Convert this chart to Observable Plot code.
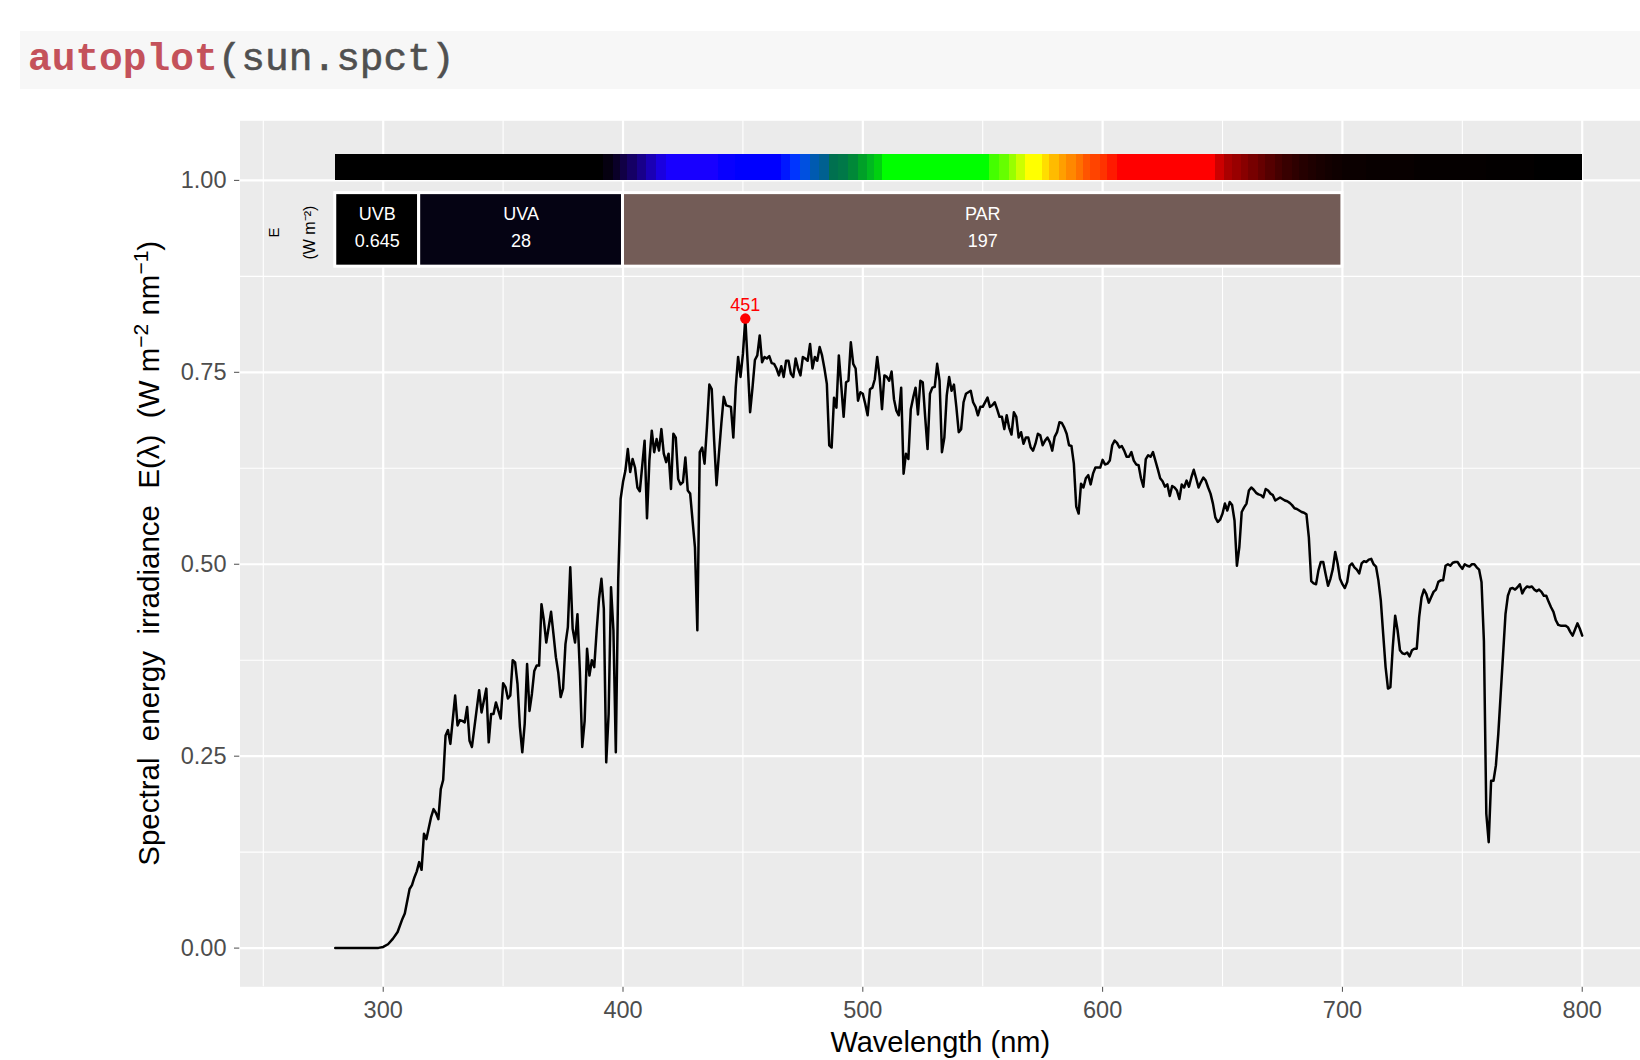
<!DOCTYPE html>
<html><head><meta charset="utf-8">
<script src="https://cdn.jsdelivr.net/npm/d3@7"></script>
<script src="https://cdn.jsdelivr.net/npm/@observablehq/plot@0.6"></script>
<style>
html,body{margin:0;padding:0;background:#fff;}
body{width:1640px;height:1060px;overflow:hidden;position:relative;font-family:"Liberation Sans",Arial,sans-serif;}
#code{position:absolute;left:20px;top:31px;width:1620px;height:58px;background:#f7f7f7;}
#code .t{position:absolute;left:8px;top:4px;font-family:"Liberation Mono","Courier New",monospace;font-size:39.5px;line-height:50px;white-space:pre;}
#code .fn{color:#c4525b;font-weight:bold;}
#code .arg{color:#505050;-webkit-text-stroke:0.6px #505050;}
#chart{position:absolute;left:0;top:89px;}
</style></head>
<body>
<div id="code"><div class="t"><span class="fn">autoplot</span><span class="arg">(sun.spct)</span></div></div>
<div id="chart"></div>
<script>
// ---- spectrum (wavelength nm, spectral energy irradiance W m-2 nm-1)
const wavelength = [280,285,290,295,298,300,302,304,306,308,309,311,312,313,314,315,316,317,318,320,321,322,323,324,325,326,327,328,330,331,332,333,334,335,336,337,340,341,343,344,345,346,347,349,
350,351,352,353,354,355,356,357,358,359,360,361,362,363,364,365,366,367,368,369,370,371,372,373,374,375,376,377,378,379,380,381,382,383,384,385,386,387,388,389,390,391,392,393,394,395,396,397,398,399,
400,401,402,403,404,405,406,407,409,410,411,412,413,414,415,416,417,418,419,420,421,422,423,424,425,426,427,428,430,431,432,433,434,435,436,437,438,439,440,441,442,443,445,446,447,448,449,
450,451,452,453,454,455,456,457,458,459,460,461,462,463,464,465,466,467,468,469,470,471,472,473,474,475,476,477,478,479,480,481,482,483,484,485,486,487,488,489,490,491,492,493,494,495,496,497,498,499,
500,501,502,503,504,505,506,507,508,509,510,511,512,513,514,515,516,517,518,519,520,521,522,523,524,525,526,527,528,529,530,531,532,533,534,535,536,537,538,539,540,541,542,543,545,546,547,548,549,
550,552,553,554,555,556,557,558,559,560,561,562,563,564,565,566,567,568,569,570,571,572,573,574,575,576,577,578,579,580,581,582,583,584,585,586,587,588,589,590,591,592,593,594,595,596,597,598,599,
600,601,602,603,604,605,606,607,608,609,610,611,612,613,614,615,616,617,618,619,620,621,622,623,624,625,626,627,628,629,630,631,632,633,634,635,636,637,638,639,640,641,642,643,644,645,646,647,648,649,
650,651,652,653,654,655,656,657,658,659,660,661,662,663,664,665,666,667,668,669,670,671,672,673,674,675,676,677,678,679,680,681,682,683,684,685,686,687,688,689,690,691,692,693,694,695,696,697,698,699,
700,701,702,703,704,705,706,707,708,709,710,711,712,713,714,715,716,717,718,719,720,721,722,723,724,725,726,727,728,729,730,731,732,733,734,735,736,737,738,739,740,741,742,743,744,745,746,747,748,749,
750,751,752,753,754,755,756,757,758,759,760,761,762,763,764,765,766,767,768,769,770,771,772,773,774,775,776,777,778,779,780,781,782,783,784,785,786,787,788,789,790,791,792,793,794,795,796,797,798,799,800];
const irradiance = [0,0,0,0,0.0003,0.0015,0.005,0.012,0.021,0.038,0.045,0.077,0.082,0.092,0.1,0.112,0.102,0.149,0.142,0.171,0.181,0.176,0.168,0.207,0.219,0.277,0.284,0.266,0.329,0.29,0.297,0.296,0.294,0.314,0.27,0.262,0.336,0.307,0.338,0.268,0.305,0.305,0.32,0.299,
0.345,0.34,0.325,0.329,0.375,0.372,0.344,0.288,0.255,0.292,0.37,0.309,0.331,0.361,0.368,0.368,0.448,0.427,0.398,0.418,0.438,0.409,0.379,0.359,0.327,0.338,0.396,0.418,0.496,0.416,0.398,0.435,0.361,0.262,0.296,0.39,0.355,0.375,0.366,0.413,0.455,0.481,0.442,0.242,0.305,0.47,0.414,0.255,0.48,0.585,
0.607,0.622,0.65,0.62,0.637,0.626,0.6,0.595,0.661,0.56,0.635,0.674,0.646,0.663,0.648,0.676,0.644,0.633,0.644,0.598,0.67,0.665,0.611,0.604,0.607,0.639,0.596,0.592,0.522,0.414,0.646,0.652,0.631,0.679,0.734,0.728,0.661,0.603,0.644,0.683,0.718,0.707,0.705,0.665,0.73,0.77,0.744,
0.774,0.82,0.761,0.698,0.73,0.766,0.772,0.798,0.763,0.77,0.768,0.771,0.762,0.761,0.755,0.746,0.758,0.744,0.765,0.765,0.748,0.744,0.768,0.755,0.746,0.77,0.768,0.765,0.787,0.755,0.77,0.765,0.783,0.772,0.755,0.735,0.655,0.652,0.717,0.704,0.772,0.733,0.692,0.737,0.739,0.789,0.761,0.755,0.713,0.724,
0.722,0.709,0.694,0.728,0.73,0.741,0.77,0.744,0.702,0.746,0.744,0.739,0.751,0.715,0.7,0.694,0.73,0.618,0.644,0.637,0.702,0.717,0.73,0.695,0.739,0.737,0.692,0.65,0.722,0.73,0.731,0.761,0.739,0.646,0.665,0.72,0.744,0.726,0.734,0.705,0.672,0.676,0.711,0.722,0.726,0.711,0.705,0.694,0.705,
0.705,0.717,0.705,0.707,0.711,0.702,0.692,0.692,0.676,0.694,0.678,0.669,0.698,0.692,0.665,0.672,0.657,0.665,0.665,0.652,0.648,0.657,0.67,0.668,0.655,0.661,0.665,0.659,0.648,0.666,0.672,0.685,0.684,0.678,0.67,0.655,0.654,0.631,0.575,0.566,0.605,0.6,0.612,0.616,0.604,0.618,0.626,0.626,0.626,
0.636,0.63,0.631,0.635,0.655,0.661,0.658,0.652,0.654,0.648,0.64,0.64,0.646,0.635,0.63,0.629,0.612,0.601,0.637,0.642,0.64,0.646,0.635,0.624,0.612,0.608,0.601,0.604,0.589,0.602,0.6,0.596,0.585,0.604,0.6,0.609,0.601,0.613,0.623,0.612,0.6,0.607,0.613,0.609,0.6,0.592,0.579,0.561,0.555,0.558,
0.566,0.579,0.57,0.581,0.577,0.557,0.498,0.522,0.568,0.574,0.579,0.596,0.6,0.597,0.593,0.591,0.59,0.587,0.598,0.596,0.592,0.59,0.583,0.585,0.587,0.585,0.583,0.582,0.58,0.577,0.573,0.572,0.57,0.568,0.567,0.565,0.535,0.478,0.475,0.474,0.492,0.503,0.503,0.487,0.472,0.481,0.494,0.516,0.501,0.481,
0.474,0.469,0.477,0.498,0.501,0.496,0.493,0.488,0.501,0.504,0.503,0.506,0.507,0.5,0.497,0.479,0.453,0.409,0.366,0.338,0.34,0.392,0.433,0.414,0.388,0.384,0.383,0.385,0.38,0.388,0.39,0.39,0.431,0.457,0.467,0.461,0.45,0.457,0.464,0.467,0.477,0.479,0.479,0.498,0.5,0.498,0.502,0.503,0.503,0.498,
0.494,0.5,0.498,0.497,0.5,0.5,0.496,0.493,0.477,0.4,0.175,0.138,0.218,0.218,0.238,0.279,0.331,0.383,0.435,0.459,0.468,0.469,0.467,0.47,0.474,0.462,0.468,0.471,0.47,0.471,0.467,0.465,0.467,0.464,0.459,0.459,0.451,0.444,0.438,0.427,0.421,0.42,0.42,0.42,0.418,0.412,0.407,0.415,0.423,0.416,0.407];

// ---- colour bar: segment start wavelength and colour
const barStart = [280,392,396,399,402,406,410,414,418,440,447,466,470,474,478,482,486,490,494,498,502,505,508,553,557,561,564,568,575,578,582,585,589,592,595,599,602,606,647,651,654,658,661,665,668,672,675,679,682,686,689,693,696,700,710,730,760,780];
const barColor = ["#000000","#050010","#0a0028","#110045","#150065","#18008a","#1a00b5","#1a00e0","#1800ff","#0800ff","#0000ff","#0018ff","#0035ff","#0050e0","#005ab0","#006090","#00704f","#007848","#008838","#00a028","#00b820","#00d010","#00ff00","#44ff00","#66ff00","#99ff00","#ccff00","#ffff00","#ffdd00","#ffbb00","#ff9f00","#ff8800","#ff7000","#ff5500","#ff4400","#ff3300","#ff1a00","#ff0000","#cc0000","#aa0000","#990000","#880000","#770000","#660000","#550000","#450000","#380000","#2e0000","#250000","#1e0000","#180000","#130000","#0f0000","#0b0000","#080000","#050000","#030000","#000000"];
const barEnd = 800;

// ---- wavebands
const bandName = ["UVB","UVA","PAR"];
const bandLow = [280,315,400];
const bandHigh = [315,400,700];
const bandValue = ["0.645","28","197"];
const bandFill = ["#000000","#050313","#735c57"];

// ---- peak
const peakWavelength = [451];
const peakIrradiance = [0.82];

// ---- axes
const xTicks = [300,400,500,600,700,800];
const xMinor = [250,350,450,550,650,750];
const yTicks = [0,0.25,0.5,0.75,1];
const yTickLabels = ["0.00","0.25","0.50","0.75","1.00"];
const yMinor = [0.125,0.375,0.625,0.875];

const spectrum = wavelength.map((w,i)=>({w, e: irradiance[i]}));
const bars = barStart.map((s,i)=>({x1: s, x2: i+1 < barStart.length ? barStart[i+1] : barEnd, y1: 1.0, y2: 1.034, c: barColor[i]}));
const bands = bandName.map((n,i)=>({n, x1: bandLow[i], x2: bandHigh[i], xm: (bandLow[i]+bandHigh[i])/2, y1: 0.8876, y2: 0.9834, v: bandValue[i], c: bandFill[i]}));
const peaks = peakWavelength.map((w,i)=>({w, e: peakIrradiance[i], t: String(w)}));

const W = 1640, H = 971;
const font = "Liberation Sans, Arial, Helvetica, sans-serif";
const chart = Plot.plot({
  width: W, height: H,
  marginLeft: 239.5, marginRight: 0, marginTop: 31.3, marginBottom: 73.7,
  style: {fontFamily: font, fontSize: "23.5px", color: "#4d4d4d", background: "transparent", overflow: "visible"},
  x: {domain: [240.28, 824.3], ticks: xTicks, tickSize: 5.5, tickPadding: 9, label: null},
  y: {domain: [-0.0504, 1.0776], ticks: yTicks, tickFormat: (d)=>yTickLabels[yTicks.indexOf(d)], tickSize: 5.5, tickPadding: 8, label: null},
  color: {type: "identity"},
  marks: [
    Plot.frame({fill: "#ebebeb", stroke: "none"}),
    Plot.ruleX(xMinor, {stroke: "white", strokeWidth: 1.1}),
    Plot.ruleY(yMinor, {stroke: "white", strokeWidth: 1.1}),
    Plot.ruleX(xTicks, {stroke: "white", strokeWidth: 2.2}),
    Plot.ruleY(yTicks, {stroke: "white", strokeWidth: 2.2}),
    Plot.rect(bars, {x1: "x1", x2: "x2", y1: "y1", y2: "y2", fill: "c", shapeRendering: "crispEdges"}),
    Plot.rect(bands, {x1: "x1", x2: "x2", y1: "y1", y2: "y2", fill: "c", stroke: "white", strokeWidth: 3}),
    Plot.text(bands, {x: "xm", y: 0.956, text: "n", fill: "white", fontSize: 18}),
    Plot.text(bands, {x: "xm", y: 0.921, text: "v", fill: "white", fontSize: 18}),
    Plot.text(["E"], {x: 254.7, y: 0.932, text: d=>d, rotate: -90, fill: "black", fontSize: 15}),
    Plot.text(["(W m\u207B\u00B2)"], {x: 269.5, y: 0.932, text: d=>d, rotate: -90, fill: "black", fontSize: 16}),
    Plot.line(spectrum, {x: "w", y: "e", stroke: "black", strokeWidth: 2.5, strokeLinejoin: "round"}),
    Plot.dot(peaks, {x: "w", y: "e", r: 5.2, fill: "red", stroke: "none"}),
    Plot.text(peaks, {x: "w", y: "e", text: "t", dy: -13, fill: "red", fontSize: 18}),
    Plot.text(["Wavelength (nm)"], {frameAnchor: "bottom", text: d=>d, dy: 65, fill: "black", fontSize: 29})
  ]
});
document.getElementById("chart").appendChild(chart);

// y-axis title with superscripts
const svg = d3.select(chart);
const yt = svg.append("text")
  .attr("transform", "translate(159,464.3) rotate(-90)")
  .attr("text-anchor", "middle")
  .attr("fill", "black")
  .attr("font-family", font)
  .attr("font-size", 29.5)
  .style("white-space", "pre");
yt.append("tspan").text("Spectral  energy  irradiance  E(\u03BB)  (W m");
yt.append("tspan").attr("baseline-shift", "super").attr("font-size", 21).text("\u22122");
yt.append("tspan").text(" nm");
yt.append("tspan").attr("baseline-shift", "super").attr("font-size", 21).text("\u22121");
yt.append("tspan").text(")");
</script>
</body></html>
